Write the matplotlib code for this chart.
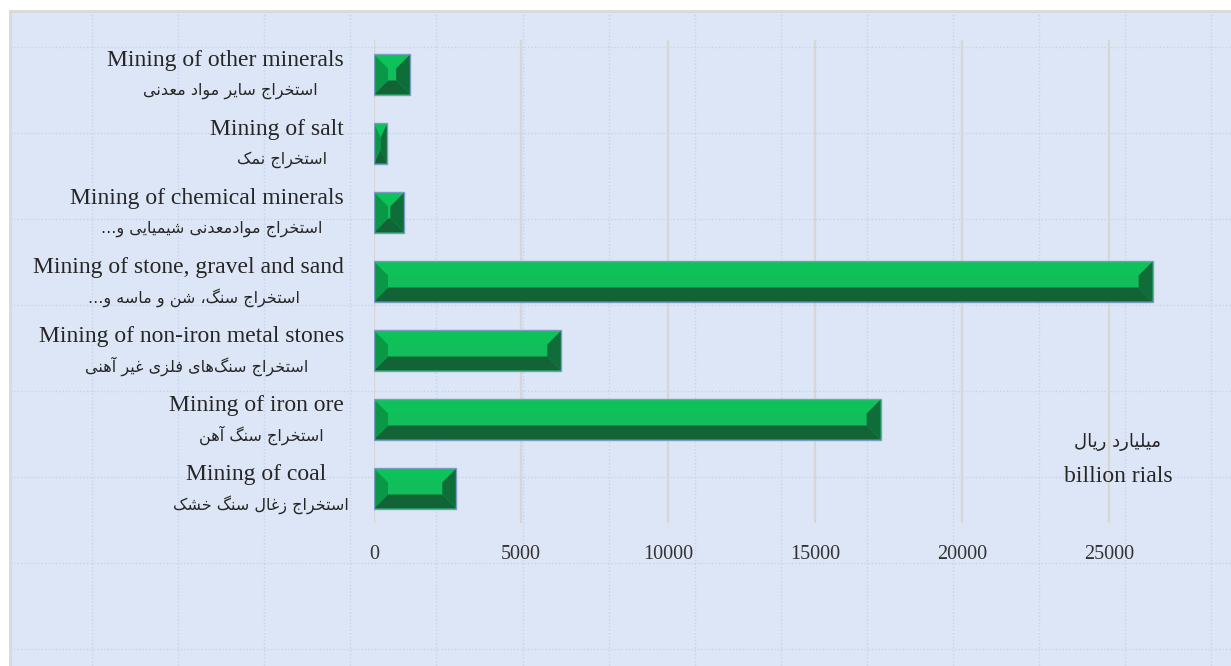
import numpy as np
import matplotlib
matplotlib.use("Agg")
import matplotlib.pyplot as plt
from matplotlib.patches import Polygon, Rectangle
from matplotlib.transforms import blended_transform_factory

# Data (bottom to top)
cats_en = ["Mining of coal", "Mining of iron ore", "Mining of non-iron metal stones",
           "Mining of stone, gravel and sand", "Mining of chemical minerals",
           "Mining of salt", "Mining of other minerals"]
cats_fa = ["استخراج زغال سنگ خشک", "استخراج سنگ آهن", "استخراج سنگ\u200cهای فلزی غیر آهنی",
           "استخراج سنگ، شن و ماسه و...", "استخراج موادمعدنی شیمیایی و...",
           "استخراج نمک", "استخراج سایر مواد معدنی"]
values = [2800, 17230, 6370, 26480, 1030, 450, 1230]
xticks = [0, 5000, 10000, 15000, 20000, 25000]
unit_fa = "میلیارد ریال"
unit_en = "billion rials"

# minimal Persian shaping: (isolated, final, initial, medial) or (isolated, final)
FORMS = {
    "ا": ("\uFE8D", "\uFE8E"), "آ": ("\uFE81", "\uFE82"),
    "د": ("\uFEA9", "\uFEAA"), "ر": ("\uFEAD", "\uFEAE"),
    "ز": ("\uFEAF", "\uFEB0"), "و": ("\uFEED", "\uFEEE"),
    "ب": ("\uFE8F", "\uFE90", "\uFE91", "\uFE92"),
    "ت": ("\uFE95", "\uFE96", "\uFE97", "\uFE98"),
    "ج": ("\uFE9D", "\uFE9E", "\uFE9F", "\uFEA0"),
    "خ": ("\uFEA5", "\uFEA6", "\uFEA7", "\uFEA8"),
    "س": ("\uFEB1", "\uFEB2", "\uFEB3", "\uFEB4"),
    "ش": ("\uFEB5", "\uFEB6", "\uFEB7", "\uFEB8"),
    "ع": ("\uFEC9", "\uFECA", "\uFECB", "\uFECC"),
    "غ": ("\uFECD", "\uFECE", "\uFECF", "\uFED0"),
    "ف": ("\uFED1", "\uFED2", "\uFED3", "\uFED4"),
    "ل": ("\uFEDD", "\uFEDE", "\uFEDF", "\uFEE0"),
    "م": ("\uFEE1", "\uFEE2", "\uFEE3", "\uFEE4"),
    "ن": ("\uFEE5", "\uFEE6", "\uFEE7", "\uFEE8"),
    "ه": ("\uFEE9", "\uFEEA", "\uFEEB", "\uFEEC"),
    "ی": ("\uFBFC", "\uFBFD", "\uFBFE", "\uFBFF"),
    "ک": ("\uFB8E", "\uFB8F", "\uFB90", "\uFB91"),
    "گ": ("\uFB92", "\uFB93", "\uFB94", "\uFB95"),
}


def fa(text):
    out = []
    for i, ch in enumerate(text):
        if ch == "\u200c":
            continue
        if ch not in FORMS:
            out.append(ch)
            continue
        f = FORMS[ch]
        prev = text[i - 1] if i > 0 else ""
        nxt = text[i + 1] if i + 1 < len(text) else ""
        jp = prev in FORMS and len(FORMS[prev]) == 4
        jn = len(f) == 4 and nxt in FORMS
        if jp and jn:
            out.append(f[3])
        elif jp:
            out.append(f[1])
        elif jn:
            out.append(f[2])
        else:
            out.append(f[0])
    return "".join(reversed(out))


W, H = 1231, 666
fig = plt.figure(figsize=(W / 100, H / 100), dpi=100)
fig.patch.set_facecolor("white")

# chart-area background
bg = fig.add_axes([0, 0, 1, 1])
bg.set_xlim(0, W)
bg.set_ylim(H, 0)
bg.axis("off")
bg.add_patch(Rectangle((10, 11), W - 10, H - 11, facecolor="#dde6f6", edgecolor="none"))
for gx in np.arange(92, W, 86.1):
    bg.plot([gx, gx], [11, H], color="#c6d3ee", lw=1, ls=(0, (1, 1.5)))
for gy in np.arange(47, H, 86):
    bg.plot([10, W], [gy, gy], color="#c6d3ee", lw=1, ls=(0, (1, 1.5)))
bg.plot([10, 10], [H, 11], color="#d9d9d9", lw=2)
bg.plot([10, W], [11, 11], color="#d9d9d9", lw=2)

left, right, top, bottom = 374, 1190, 40, 523
ax = fig.add_axes([left / W, 1 - bottom / H, (right - left) / W, (bottom - top) / H])
ax.set_facecolor("none")
xmax = 27750
ax.set_xlim(0, xmax)
ax.set_ylim(-0.5, len(values) - 0.5)
for s in ax.spines.values():
    s.set_visible(False)

ax.set_xticks(xticks)
ax.set_xticklabels([str(t) for t in xticks], fontfamily="Liberation Serif",
                   fontsize=14.5, color="#333333")
ax.tick_params(axis="x", length=0, pad=16)
ax.set_yticks([])
ax.grid(axis="x", color="#d6d6d6", lw=1.6, zorder=0)
ax.set_axisbelow(True)

ypos = np.arange(len(values))
bar_h = 0.58
bars = ax.barh(ypos, values, height=bar_h, color="#12bd5b", edgecolor="none", zorder=2)

# bevel
px_x = (right - left) / xmax
px_y = (bottom - top) / len(values)
bev = 14
for b in bars:
    x0, y0, w, h = b.get_x(), b.get_y(), b.get_width(), b.get_height()
    x1, y1 = x0 + w, y0 + h
    bx = min(bev / px_x, w / 2)
    by = min(bev / px_y, h / 2)
    ix0, ix1, iy0, iy1 = x0 + bx, x1 - bx, y0 + by, y1 - by
    parts = [
        ([(x0, y1), (x1, y1), (ix1, iy1), (ix0, iy1)], "#0cc259"),   # top
        ([(x0, y0), (x1, y0), (ix1, iy0), (ix0, iy0)], "#126336"),   # bottom
        ([(x0, y0), (x0, y1), (ix0, iy1), (ix0, iy0)], "#0a9847"),   # left
        ([(x1, y0), (x1, y1), (ix1, iy1), (ix1, iy0)], "#0e6d39"),   # right
    ]
    for pts, c in parts:
        ax.add_patch(Polygon(pts, closed=True, facecolor=c, edgecolor="none", zorder=3))
ax.barh(ypos, values, height=bar_h, fill=False, edgecolor="#7a9cc2", lw=1.0, zorder=4)

# category labels
ytr = blended_transform_factory(fig.transFigure, ax.transData)
R = 346
fig.canvas.draw()
renderer = fig.canvas.get_renderer()
for i in range(len(values)):
    te = ax.text(0, i + 0.2, cats_en[i], transform=ytr, fontfamily="Liberation Serif",
                 fontsize=17, color="#262626", ha="center", va="center")
    tf = ax.text(0, i - 0.23, fa(cats_fa[i]), transform=ytr, fontfamily="DejaVu Sans",
                 fontsize=11.5, color="#262626", ha="center", va="center")
    we = te.get_window_extent(renderer).width
    wf = tf.get_window_extent(renderer).width
    c = R - max(we, wf) / 2
    te.set_x((c - 2) / W)
    tf.set_x((c + 3) / W)

fig.text(1118 / W, 1 - 442 / H, fa(unit_fa), fontfamily="DejaVu Sans", fontsize=13,
         color="#262626", ha="center", va="center")
fig.text(1118 / W, 1 - 477 / H, unit_en, fontfamily="Liberation Serif", fontsize=17,
         color="#262626", ha="center", va="center")

fig.savefig("out.png", dpi=100)
